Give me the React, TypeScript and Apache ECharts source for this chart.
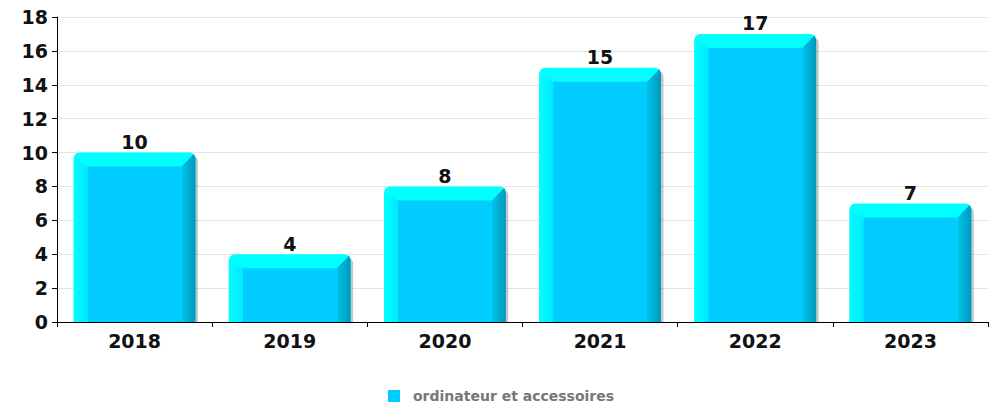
import React, { useEffect, useRef } from "react";
import * as echarts from "echarts";

const categories = ["2018", "2019", "2020", "2021", "2022", "2023"];
const values = [10, 4, 8, 15, 17, 7];
const seriesName = "ordinateur et accessoires";
const yTicks = { min: 0, max: 18, interval: 2 };

const FONT = '"DejaVu Sans", Verdana, sans-serif';

export default function App() {
  const ref = useRef<HTMLDivElement>(null);
  useEffect(() => {
    if (!ref.current) return;
    const chart = echarts.init(ref.current, undefined, { renderer: "svg" });
    const renderItem = (params: any, api: any) => {
      const idx = api.value(0);
      const val = api.value(1);
      const top = api.coord([idx, val]);
      const base = api.coord([idx, 0]);
      const band = api.size([1, 0])[0];
      const w = band * 0.785;
      const x = top[0] - w / 2;
      const y = top[1];
      const h = base[1] - y;
      const b = 14;
      const r = 6;
      return {
        type: "group",
        children: [
          {
            type: "rect",
            shape: { x: x + 2.5, y: y + 3, width: w, height: h - 3, r: [r, r, 0, 0] },
            style: { fill: "rgba(0,0,0,0.22)" },
          },
          {
            type: "rect",
            shape: { x, y, width: w, height: h, r: [r, r, 0, 0] },
            style: { fill: "#00FFFF" },
          },
          {
            type: "polygon",
            shape: { points: [[x, y + r], [x + b, y + b], [x + b, base[1]], [x, base[1]]] },
            style: {
              fill: new echarts.graphic.LinearGradient(0, 0, 1, 0, [
                { offset: 0, color: "#00FFFF" },
                { offset: 1, color: "#00EAFF" },
              ]),
            },
          },
          {
            type: "polygon",
            shape: {
              points: [[x + w - 1.5, y + 1.5], [x + w - b, y + b], [x + w - b, base[1]], [x + w, base[1]], [x + w, y + r]],
            },
            style: {
              fill: new echarts.graphic.LinearGradient(0, 0, 1, 0, [
                { offset: 0, color: "#00C4EC" },
                { offset: 1, color: "#0098BC" },
              ]),
            },
          },
          {
            type: "rect",
            shape: { x: x + b, y: y + b, width: w - 2 * b, height: h - b },
            style: { fill: "#00CCFF" },
          },
          {
            type: "text",
            style: {
              text: String(val),
              x: top[0],
              y: y - 1,
              align: "center",
              verticalAlign: "bottom",
              fontSize: 19,
              fontWeight: "bold",
              fontFamily: FONT,
              fill: "#111",
            },
          },
        ],
      };
    };
    chart.setOption({
      animation: false,
      grid: { left: 57, right: 6, top: 17, bottom: 83, containLabel: false },
      legend: {
        top: 384,
        left: 383,
        icon: "rect",
        itemWidth: 12,
        itemHeight: 12,
        data: [seriesName],
        textStyle: {
          color: "#777",
          fontWeight: "bold",
          fontSize: 14,
          lineHeight: 14,
          fontFamily: FONT,
          padding: [0, 0, 0, 8],
        },
      },
      xAxis: {
        type: "category",
        data: categories,
        axisLine: { lineStyle: { color: "#000", width: 1 } },
        axisTick: { show: true, length: 5, lineStyle: { color: "#000" } },
        axisLabel: {
          margin: 9,
          fontSize: 19,
          fontWeight: "bold",
          fontFamily: FONT,
          color: "#111",
        },
        splitLine: { show: false },
      },
      yAxis: {
        type: "value",
        min: yTicks.min,
        max: yTicks.max,
        interval: yTicks.interval,
        axisLine: { show: true, lineStyle: { color: "#000", width: 1 } },
        axisTick: { show: true, length: 5, lineStyle: { color: "#000" } },
        axisLabel: {
          margin: 9,
          fontSize: 19,
          fontWeight: "bold",
          fontFamily: FONT,
          color: "#111",
        },
        splitLine: { show: true, lineStyle: { color: "#e4e4e4" } },
      },
      series: [
        {
          type: "custom",
          name: seriesName,
          itemStyle: { color: "#00CCFF" },
          renderItem,
          encode: { x: 0, y: 1 },
          data: values.map((v, i) => [i, v]),
        },
      ],
    });
    return () => chart.dispose();
  }, []);
  return (
    <div
      ref={ref}
      style={{ position: "absolute", left: 0, top: 0, width: 994, height: 405 }}
    />
  );
}
